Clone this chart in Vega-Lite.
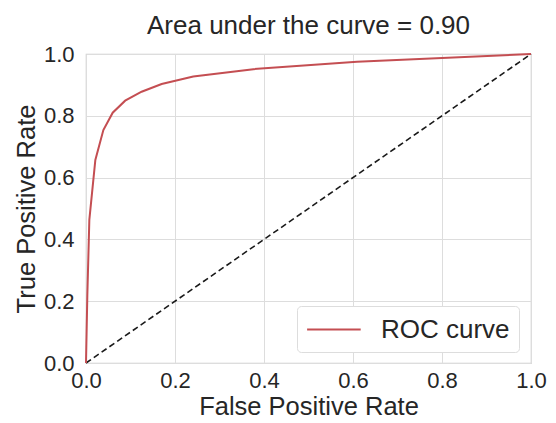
{
  "$schema": "https://vega.github.io/schema/vega-lite/v6.json",
  "autosize": {"type": "none"},
  "width": 445,
  "height": 309,
  "padding": {"left": 86, "top": 54, "right": 25, "bottom": 60},
  "background": "white",
  "config": {
    "font": "Liberation Sans",
    "view": {"stroke": "#cccccc", "strokeWidth": 1.2},
    "axis": {
      "grid": true,
      "gridColor": "#dddddd",
      "gridWidth": 1,
      "domain": false,
      "ticks": false,
      "labelFontSize": 22,
      "labelColor": "#262626",
      "labelFlush": false,
      "labelOverlap": false,
      "titleFontSize": 25.5,
      "titleFontWeight": "normal",
      "titleColor": "#262626"
    },
    "title": {"fontSize": 26, "fontWeight": "normal", "color": "#262626", "offset": 4}
  },
  "title": {"text": "Area under the curve = 0.90", "anchor": "middle"},
  "datasets": {
    "roc": [
      {"fpr": 0.0, "tpr": 0.0, "series": "ROC curve"},
      {"fpr": 0.003, "tpr": 0.22, "series": "ROC curve"},
      {"fpr": 0.0075, "tpr": 0.463, "series": "ROC curve"},
      {"fpr": 0.021, "tpr": 0.657, "series": "ROC curve"},
      {"fpr": 0.039, "tpr": 0.754, "series": "ROC curve"},
      {"fpr": 0.06, "tpr": 0.81, "series": "ROC curve"},
      {"fpr": 0.088, "tpr": 0.849, "series": "ROC curve"},
      {"fpr": 0.125, "tpr": 0.878, "series": "ROC curve"},
      {"fpr": 0.17, "tpr": 0.903, "series": "ROC curve"},
      {"fpr": 0.241, "tpr": 0.927, "series": "ROC curve"},
      {"fpr": 0.376, "tpr": 0.951, "series": "ROC curve"},
      {"fpr": 0.609, "tpr": 0.975, "series": "ROC curve"},
      {"fpr": 1.0, "tpr": 1.0, "series": "ROC curve"}
    ],
    "diag": [
      {"fpr": 0.0, "tpr": 0.0},
      {"fpr": 1.0, "tpr": 1.0}
    ]
  },
  "layer": [
    {
      "data": {"name": "diag"},
      "mark": {"type": "line", "color": "#1a1a1a", "strokeWidth": 1.6, "strokeDash": [6, 3.5]},
      "encoding": {
        "x": {"field": "fpr", "type": "quantitative", "scale": {"domain": [0, 1], "nice": false}, "axis": {"title": "False Positive Rate", "values": [0, 0.2, 0.4, 0.6, 0.8, 1.0], "format": ".1f", "labelPadding": 7, "titlePadding": 3}},
        "y": {"field": "tpr", "type": "quantitative", "scale": {"domain": [0, 1], "nice": false}, "axis": {"title": "True Positive Rate", "values": [0, 0.2, 0.4, 0.6, 0.8, 1.0], "format": ".1f", "labelPadding": 12, "titlePadding": 4}}
      }
    },
    {
      "data": {"name": "roc"},
      "mark": {"type": "line", "strokeWidth": 2},
      "encoding": {
        "x": {"field": "fpr", "type": "quantitative"},
        "y": {"field": "tpr", "type": "quantitative"},
        "color": {
          "field": "series",
          "type": "nominal",
          "scale": {"range": ["#c44e52"]},
          "legend": {
            "title": null,
            "orient": "none",
            "legendX": 211,
            "legendY": 252,
            "symbolType": "M-1,0L3,0",
            "symbolSize": 718,
            "symbolStrokeWidth": 2,
            "labelFontSize": 26,
            "labelColor": "#262626",
            "labelOffset": 46,
            "padding": 9,
            "strokeColor": "#dddddd",
            "fillColor": "white",
            "cornerRadius": 4
          }
        }
      }
    }
  ]
}
